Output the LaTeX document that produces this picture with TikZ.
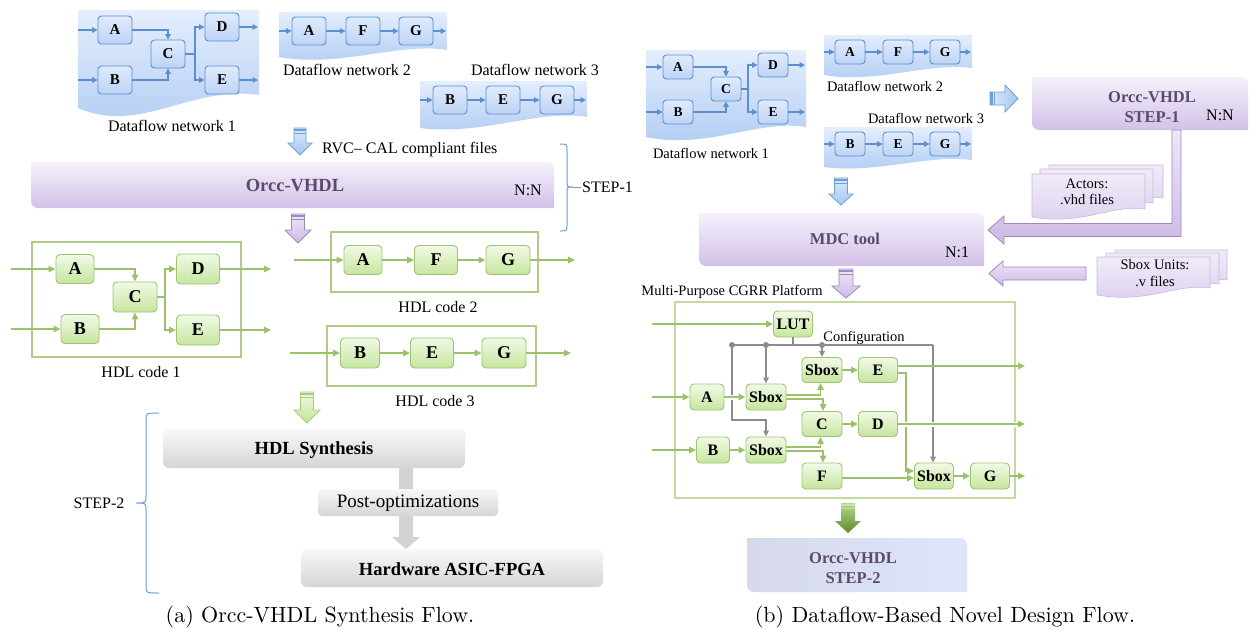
\documentclass[tikz,border=0pt]{standalone}
\usepackage{fontspec}
\newfontfamily\tnr{Liberation Serif}
\newfontfamily\lmten{lmroman10-regular}[Extension=.otf]
\usetikzlibrary{arrows.meta}
\definecolor{bgT}{HTML}{E4EEFD}
\definecolor{bgB}{HTML}{AFCBF3}
\definecolor{blueln}{HTML}{5B8FD0}
\definecolor{bnT}{HTML}{E0EBFC}
\definecolor{bnB}{HTML}{BDD4F6}
\definecolor{gnln}{HTML}{9FC472}
\definecolor{garr}{HTML}{9DC06A}
\definecolor{gnT}{HTML}{F1FAE6}
\definecolor{gnB}{HTML}{C6E59E}
\definecolor{hdlln}{HTML}{AFCB86}
\definecolor{purT}{HTML}{F5F1FB}
\definecolor{purB}{HTML}{D2C1E8}
\definecolor{purtxt}{HTML}{5A4A6C}
\definecolor{purln}{HTML}{9E87C2}
\definecolor{paT}{HTML}{EEE7F8}
\definecolor{paB}{HTML}{CDB9E6}
\definecolor{grT}{HTML}{F8F8F8}
\definecolor{grB}{HTML}{D5D5D5}
\definecolor{grA}{HTML}{D3D3D3}
\definecolor{cfg}{HTML}{8C8C8C}
\definecolor{brk}{HTML}{6E9ED8}
\definecolor{platln}{HTML}{C2D9A0}
\definecolor{baT}{HTML}{DCE9FC}
\definecolor{baB}{HTML}{A5C5F0}
\definecolor{baln}{HTML}{6F9FD9}
\definecolor{gaT}{HTML}{F0F9E2}
\definecolor{gaB}{HTML}{C7E49A}
\definecolor{galn}{HTML}{A8CB7C}
\definecolor{dgT}{HTML}{B6D68C}
\definecolor{dgB}{HTML}{5C8C2C}
\definecolor{docT}{HTML}{F1EBF8}
\definecolor{docB}{HTML}{DCCFEE}
\definecolor{docln}{HTML}{C8B9DF}
\definecolor{sL}{HTML}{D6D9EA}
\definecolor{sR}{HTML}{DEE6FB}
% block arrow pointing down: cx, top, bottom, shaft half w, head half w, head length, style
\newcommand\blkdn[7]{\path[#7] ({#1-#4},#2) -- ({#1+#4},#2) -- ({#1+#4},{#3-#6}) -- ({#1+#5},{#3-#6}) -- (#1,#3) -- ({#1-#5},{#3-#6}) -- ({#1-#4},{#3-#6}) -- cycle;}
\newcommand\stripes[4]{\fill[#4] ({#1-#3},#2) rectangle ({#1+#3},{#2+2.5}); \fill[#4] ({#1-#3},{#2+4}) rectangle ({#1+#3},{#2+4.8});}
% bar with rounded top-right and bottom-left corners: x1 y1 x2 y2 r style
\newcommand\rbar[6]{\path[#6] (#1,#2) -- ({#3-#5},#2) to[out=0,in=90] (#3,{#2+#5}) -- (#3,#4) -- ({#1+#5},#4) to[out=180,in=-90] (#1,{#4-#5}) -- cycle;}
% document shape: x1 y1 x2 yR yL style
\newcommand\docsh[6]{\path[#6] (#1,#2) -- (#3,#2) -- (#3,#4) .. controls ({#3-0.3*(#3-#1)},{#4-5}) and ({#1+0.45*(#3-#1)},{#5+9}) .. (#1,#5) -- cycle;}
\begin{document}
\begin{tikzpicture}[x=1pt,y=-1pt,
  bn/.style={draw=blueln, line width=0.9pt, rounded corners=3.5pt, top color=bnT, bottom color=bnB,
    font=\tnr\bfseries\fontsize{15}{15}\selectfont, minimum width=34pt, minimum height=28pt, inner sep=0pt},
  bns/.style={bn, minimum width=30pt, minimum height=24pt, font=\tnr\bfseries\fontsize{13.5}{13.5}\selectfont},
  ba/.style={draw=blueln, line width=1.2pt, -{Triangle[length=5.5pt,width=5.5pt]}},
  gn/.style={draw=gnln, line width=0.9pt, rounded corners=4pt, top color=gnT, bottom color=gnB,
    font=\tnr\bfseries\fontsize{18}{18}\selectfont, minimum height=29pt, inner sep=0pt},
  gns/.style={gn, font=\tnr\bfseries\fontsize{16}{16}\selectfont, minimum height=26pt},
  ga/.style={draw=garr, line width=1.5pt, -{Triangle[length=7pt,width=6.5pt]}},
  hdlbox/.style={draw=hdlln, line width=1.1pt, inner sep=0pt},
  ca/.style={draw=cfg, line width=1.4pt, -{Triangle[length=6pt,width=5.5pt]}},
  cl/.style={draw=cfg, line width=1.4pt},
  lbl/.style={font=\tnr\fontsize{16}{18}\selectfont, inner sep=0pt},
  lbls/.style={font=\tnr\fontsize{14.5}{16.5}\selectfont, inner sep=0pt, align=center},
  ptxt/.style={font=\tnr\bfseries\fontsize{18.5}{20}\selectfont, text=purtxt, inner sep=0pt},
  ptxts/.style={font=\tnr\bfseries\fontsize{16.5}{19.5}\selectfont, text=purtxt, inner sep=0pt, align=center},
  gtxt/.style={font=\tnr\bfseries\fontsize{18.5}{20}\selectfont, inner sep=0pt},
  bg/.style={top color=bgT, bottom color=bgB},
  purbar/.style={top color=purT, bottom color=purB},
  grbox/.style={rounded corners=6pt, top color=grT, bottom color=grB, minimum height=39pt, inner sep=0pt},
  brace/.style={draw=brk, line width=1pt},
  captxt/.style={font=\lmten\fontsize{22}{26}\selectfont, inner sep=0pt}
]
\useasboundingbox (0,0) rectangle (1252,629);
\fill[white] (0,0) rectangle (1252,629);

%================ PANEL (a) =================
\path[bg] (78,10) -- (259,10) -- (259,95) .. controls (190,85) and (140,135) .. (78,108) -- cycle;
\path[bg] (279,12) -- (447,12) -- (447,50) .. controls (400,42) and (340,68) .. (279,57) -- cycle;
\path[bg] (420,81) -- (587,81) -- (587,117) .. controls (540,109) and (480,136) .. (420,128) -- cycle;

% network 1
\node[bn] (a1A) at (115,30) {A};
\node[bn] (a1B) at (115,80) {B};
\node[bn] (a1C) at (168,54) {C};
\node[bn] (a1D) at (222,27) {D};
\node[bn] (a1E) at (222,80) {E};
\coordinate (a1i1) at (78,30); \coordinate (a1i2) at (78,80);
\coordinate (a1o1) at (258,27); \coordinate (a1o2) at (258,80);
\coordinate (a1s) at (195,54);
\draw[ba] (a1i1) -- (a1A);
\draw[ba] (a1i2) -- (a1B);
\draw[ba] (a1A.east) -| (a1C.north);
\draw[ba] (a1B.east) -| (a1C.south);
\draw[ba] (a1C.east) -- (a1s) |- (a1D.west);
\draw[ba] (a1s) |- (a1E.west);
\draw[ba] (a1D.east) -- (a1o1);
\draw[ba] (a1E.east) -- (a1o2);
\node[lbl] (a1lbl) at (172,126) {Dataflow network 1};

% network 2
\node[bn] (a2A) at (309,31) {A};
\node[bn] (a2F) at (363,31) {F};
\node[bn] (a2G) at (416,31) {G};
\coordinate (a2i) at (279,31); \coordinate (a2o) at (446,31);
\draw[ba] (a2i) -- (a2A);
\draw[ba] (a2A) -- (a2F);
\draw[ba] (a2F) -- (a2G);
\draw[ba] (a2G) -- (a2o);
\node[lbl] (a2lbl) at (347,70) {Dataflow network 2};

% network 3
\node[bn] (a3B) at (450,100) {B};
\node[bn] (a3E) at (503,100) {E};
\node[bn] (a3G) at (557,100) {G};
\coordinate (a3i) at (420,100); \coordinate (a3o) at (586,100);
\draw[ba] (a3i) -- (a3B);
\draw[ba] (a3B) -- (a3E);
\draw[ba] (a3E) -- (a3G);
\draw[ba] (a3G) -- (a3o);
\node[lbl] (a3lbl) at (535,70) {Dataflow network 3};

% blue block arrow
\blkdn{300}{128}{155}{6}{12}{12}{top color=baT, bottom color=baB, draw=baln, line width=0.8pt}
\stripes{300}{128.5}{5.6}{baln}
\node[lbl, anchor=west] (rvc) at (322,150) {RVC– CAL compliant files};

% Orcc-VHDL bar
\rbar{31}{162}{554}{208}{7}{purbar}
\node[ptxt] (orcc) at (295,186) {Orcc-VHDL};
\node[lbl] (nn) at (528,190) {N:N};
\draw[brace] (560,144) .. controls (567,144) .. (567,150) -- (567,181) .. controls (567,187) .. (573,187) .. controls (567,187) .. (567,193) -- (567,225) .. controls (567,231) .. (560,231);
\draw[brace] (573,187) -- (581,187);
\node[lbl, anchor=west] (step1) at (582,187) {STEP-1};

% purple block arrow
\blkdn{298}{214}{243}{6.5}{13}{13}{top color=paT, bottom color=paB, draw=purln, line width=0.8pt}
\stripes{298}{214.5}{6.1}{purln}

% HDL code 1
\node[hdlbox, minimum width=209pt, minimum height=115pt] (h1) at (136.5,299.5) {};
\node[gn, minimum width=38pt] (h1A) at (75,269) {A};
\node[gn, minimum width=38pt] (h1B) at (80,329) {B};
\node[gn, minimum width=44pt, minimum height=30pt] (h1C) at (135,297) {C};
\node[gn, minimum width=43pt, minimum height=30pt] (h1D) at (198,269) {D};
\node[gn, minimum width=43pt, minimum height=30pt] (h1E) at (198,330) {E};
\coordinate (h1i1) at (11,269); \coordinate (h1i2) at (11,329);
\coordinate (h1o1) at (271,269); \coordinate (h1o2) at (271,330);
\coordinate (h1s) at (165,297);
\draw[ga] (h1i1) -- (h1A);
\draw[ga] (h1i2) -- (h1B);
\draw[ga] (h1A.east) -| (h1C.north);
\draw[ga] (h1B.east) -| (h1C.south);
\draw[ga] (h1C.east) -- (h1s) |- (h1D.west);
\draw[ga] (h1s) |- (h1E.west);
\draw[ga] (h1D.east) -- (h1o1);
\draw[ga] (h1E.east) -- (h1o2);
\node[lbl] (h1lbl) at (141,372) {HDL code 1};

% HDL code 2
\node[hdlbox, minimum width=207pt, minimum height=60pt] (h2) at (434.5,262) {};
\node[gn, minimum width=38pt] (h2A) at (363,260) {A};
\node[gn, minimum width=43pt] (h2F) at (436,260) {F};
\node[gn, minimum width=44pt] (h2G) at (508,260) {G};
\coordinate (h2i) at (294,260); \coordinate (h2o) at (575,260);
\draw[ga] (h2i) -- (h2A);
\draw[ga] (h2A) -- (h2F);
\draw[ga] (h2F) -- (h2G);
\draw[ga] (h2G) -- (h2o);
\node[lbl] (h2lbl) at (438,307) {HDL code 2};

% HDL code 3
\node[hdlbox, minimum width=209pt, minimum height=60pt] (h3) at (431.5,356) {};
\node[gn, minimum width=39pt, minimum height=30pt] (h3B) at (360,353) {B};
\node[gn, minimum width=43pt, minimum height=30pt] (h3E) at (432,353) {E};
\node[gn, minimum width=44pt, minimum height=30pt] (h3G) at (504,353) {G};
\coordinate (h3i) at (290,353); \coordinate (h3o) at (571,353);
\draw[ga] (h3i) -- (h3B);
\draw[ga] (h3B) -- (h3E);
\draw[ga] (h3E) -- (h3G);
\draw[ga] (h3G) -- (h3o);
\node[lbl] (h3lbl) at (435,401) {HDL code 3};

% green block arrow
\blkdn{307}{392}{423}{6.5}{13}{13}{top color=gaT, bottom color=gaB, draw=galn, line width=0.8pt}
\stripes{307}{392.5}{6.1}{galn}

% synthesis flow
\path[fill=grA] (399,465) rectangle (413,537);
\path[fill=grA] (392,537) -- (420,537) -- (406,549) -- cycle;
\node[grbox, minimum width=302pt, minimum height=39pt] (syn) at (314,448.5) {};
\node[gtxt] (syntxt) at (314,450) {HDL Synthesis};
\node[grbox, rounded corners=4pt, minimum width=180pt, minimum height=27pt] (post) at (408,502.5) {};
\node[font=\tnr\fontsize{19}{21}\selectfont, inner sep=0pt] (posttxt) at (408,503) {Post-optimizations};
\node[grbox, minimum width=302pt, minimum height=38pt] (hw) at (452,568) {};
\node[gtxt] (hwtxt) at (452,569) {Hardware ASIC-FPGA};

\draw[brace] (159,413) .. controls (146,413) .. (146,420) -- (146,496) .. controls (146,503) .. (136,503) .. controls (146,503) .. (146,510) -- (146,586) .. controls (146,593) .. (159,593);
\node[lbl] (step2) at (99,503) {STEP-2};

\node[captxt] (capa) at (320,617) {(a) Orcc-VHDL Synthesis Flow.};

%================ PANEL (b) =================
\path[bg] (646,50) -- (806,50) -- (806,127) .. controls (760,119) and (705,150) .. (646,137) -- cycle;
\path[bg] (824,35) -- (972,35) -- (972,68) .. controls (930,62) and (875,84) .. (824,75) -- cycle;
\path[bg] (824,127) -- (972,127) -- (972,160) .. controls (930,154) and (875,174) .. (824,167) -- cycle;

\node[bns] (b1A) at (678,67) {A};
\node[bns] (b1B) at (678,112) {B};
\node[bns] (b1C) at (726,89) {C};
\node[bns] (b1D) at (773,65) {D};
\node[bns] (b1E) at (773,112) {E};
\coordinate (b1i1) at (646,67); \coordinate (b1i2) at (646,112);
\coordinate (b1o1) at (805,65); \coordinate (b1o2) at (805,112);
\coordinate (b1s) at (748,89);
\draw[ba] (b1i1) -- (b1A);
\draw[ba] (b1i2) -- (b1B);
\draw[ba] (b1A.east) -| (b1C.north);
\draw[ba] (b1B.east) -| (b1C.south);
\draw[ba] (b1C.east) -- (b1s) |- (b1D.west);
\draw[ba] (b1s) |- (b1E.west);
\draw[ba] (b1D.east) -- (b1o1);
\draw[ba] (b1E.east) -- (b1o2);
\node[lbls] (b1lbl) at (711,153) {Dataflow network 1};

\node[bns] (b2A) at (850,52) {A};
\node[bns] (b2F) at (898,52) {F};
\node[bns] (b2G) at (945,52) {G};
\coordinate (b2i) at (824,52); \coordinate (b2o) at (971,52);
\draw[ba] (b2i) -- (b2A);
\draw[ba] (b2A) -- (b2F);
\draw[ba] (b2F) -- (b2G);
\draw[ba] (b2G) -- (b2o);
\node[lbls] (b2lbl) at (885,86) {Dataflow network 2};

\node[bns] (b3B) at (850,144) {B};
\node[bns] (b3E) at (898,144) {E};
\node[bns] (b3G) at (945,144) {G};
\coordinate (b3i) at (824,144); \coordinate (b3o) at (971,144);
\draw[ba] (b3i) -- (b3B);
\draw[ba] (b3B) -- (b3E);
\draw[ba] (b3E) -- (b3G);
\draw[ba] (b3G) -- (b3o);
\node[lbls] (b3lbl) at (926,118) {Dataflow network 3};

\path[left color=baT, right color=baB, draw=baln, line width=0.8pt] (990,92) -- (1005,92) -- (1005,85) -- (1018,98.5) -- (1005,112) -- (1005,105) -- (990,105) -- cycle;
\fill[baln] (990,92) rectangle (992.5,105);
\fill[baln] (994,92) rectangle (994.8,105);

\rbar{1032}{77}{1248}{130}{7}{purbar}
\node[ptxts] (s1txt) at (1152,107) {Orcc-VHDL\\STEP-1};
\node[lbl] (s1nn) at (1220,115) {N:N};

\path[top color=paT, bottom color=paB, draw=purln, line width=0.8pt] (1172,130) -- (1181,130) -- (1181,236.5) -- (1004,236.5) -- (1004,244) -- (988,230) -- (1004,216) -- (1004,223.5) -- (1172,223.5) -- cycle;

\docsh{1049}{165}{1163}{198}{205}{top color=docT, bottom color=docB, draw=docln, line width=0.6pt}
\docsh{1040}{169}{1153}{203}{210}{top color=docT, bottom color=docB, draw=docln, line width=0.6pt}
\docsh{1032}{174}{1145}{209}{217}{top color=docT, bottom color=docB, draw=docln, line width=0.6pt}
\node[lbls] (actors) at (1087,192) {Actors:\\.vhd files};

\docsh{1115}{250}{1227}{280}{286}{top color=docT, bottom color=docB, draw=docln, line width=0.6pt}
\docsh{1106}{253}{1219}{284}{290}{top color=docT, bottom color=docB, draw=docln, line width=0.6pt}
\docsh{1097}{257}{1210}{288}{295}{top color=docT, bottom color=docB, draw=docln, line width=0.6pt}
\node[lbls] (sboxu) at (1155,273) {Sbox Units:\\.v files};

\path[top color=paT, bottom color=paB, draw=purln, line width=0.8pt] (1086,267) -- (1086,280) -- (1003,280) -- (1003,286) -- (989,273.5) -- (1003,261) -- (1003,267) -- cycle;

\blkdn{841}{178}{205}{6.5}{12}{11}{top color=baT, bottom color=baB, draw=baln, line width=0.8pt}
\stripes{841}{178.5}{6.1}{baln}

\rbar{699}{213}{984}{266}{7}{purbar}
\node[ptxts] (mdc) at (845,239) {MDC tool};
\node[lbl] (n1) at (957,252) {N:1};

\blkdn{846}{269}{298}{7}{14}{12}{top color=paT, bottom color=paB, draw=purln, line width=0.8pt}
\stripes{846}{269.5}{6.6}{purln}
\node[lbls] (mpl) at (732,292) {Multi-Purpose CGRR Platform};

\node[draw=platln, line width=1.2pt, minimum width=340pt, minimum height=196pt, inner sep=0pt] (plat) at (845,400) {};
\node[gns, minimum width=39pt] (pLUT) at (793,324) {LUT};
\node[gns, minimum width=34pt] (pA) at (707,397) {A};
\node[gns, minimum width=40pt] (pS1) at (766,397) {Sbox};
\node[gns, minimum width=33pt] (pB) at (713,450) {B};
\node[gns, minimum width=40pt] (pS2) at (766,450) {Sbox};
\node[gns, minimum width=40pt, minimum height=25pt] (pST) at (822,370) {Sbox};
\node[gns, minimum width=39pt, minimum height=25pt] (pE) at (878,370) {E};
\node[gns, minimum width=40pt, minimum height=25pt] (pC) at (822,424) {C};
\node[gns, minimum width=39pt, minimum height=25pt] (pD) at (878,424) {D};
\node[gns, minimum width=40pt] (pF) at (822,476) {F};
\node[gns, minimum width=39pt] (pSB) at (934,476) {Sbox};
\node[gns, minimum width=39pt] (pG) at (990,476) {G};
\node[lbls] (cfgtxt) at (864,338) {Configuration};

\coordinate (cL) at (732,345); \coordinate (c1) at (766,345);
\coordinate (c2) at (822,345); \coordinate (cR) at (933,345);
\coordinate (cLb) at (732,420);
\draw[cl] (pLUT.south) -- (pLUT.south |- cL);
\draw[cl] (cL) -- (cR);
\draw[ca] (cR) -- (pSB.north -| cR);
\draw[ca] (c1) -- (pS1.north);
\draw[ca] (c2) -- (pST.north);
\draw[ca] (cL) -- (cLb) -| (pS2.north);
\fill[cfg] (cL) circle (3pt) (c1) circle (3pt) (c2) circle (3pt);

\coordinate (pi0) at (652,324); \coordinate (pi1) at (652,397); \coordinate (pi2) at (652,450);
\coordinate (po1) at (1025,366); \coordinate (po2) at (1025,424); \coordinate (po3) at (1025,476);
\draw[ga] (pi0) -- (pLUT);
\draw[ga] (pi1) -- (pA);
\draw[ga, preaction={draw=white, line width=5pt, -}] (pA) -- (pS1);
\draw[ga] (pi2) -- (pB);
\draw[ga] (pB) -- (pS2);
\draw[ga] ([yshift=2pt]pS1.east) -| ([xshift=-1.5pt]pST.south);
\draw[ga] ([yshift=-2pt]pS1.east) -| ([xshift=1pt]pC.north);
\draw[ga] ([yshift=3pt]pS2.east) -| ([xshift=-1.5pt]pC.south);
\draw[ga] ([yshift=-1pt]pS2.east) -| ([xshift=1pt]pF.north);
\draw[ga] (pST) -- (pE);
\draw[ga] (pC) -- (pD);
\coordinate (eV) at (906,373);
\draw[ga] ([yshift=-3pt]pE.east) -- (eV) |- ([yshift=5pt]pSB.west);
\draw[ga] ([yshift=4pt]pE.east) -- (po1);
\draw[ga, preaction={draw=white, line width=5pt, -}] (pD.east) -- (po2);
\draw[ga] ([yshift=-2pt]pF.east) -- ([yshift=-2pt]pSB.west);
\draw[ga] (pSB) -- (pG);
\draw[ga] (pG) -- (po3);

\blkdn{848}{503}{533}{7}{13}{12}{top color=dgT, bottom color=dgB, draw=none}
\stripes{848}{503.5}{7}{dgT!70!white}

\rbar{747}{538}{967}{592}{7}{left color=sL, right color=sR}
\node[ptxts] (s2txt) at (853,568) {Orcc-VHDL\\STEP-2};

\node[captxt] (capb) at (945,617) {(b) Dataflow-Based Novel Design Flow.};
\end{tikzpicture}
\end{document}
